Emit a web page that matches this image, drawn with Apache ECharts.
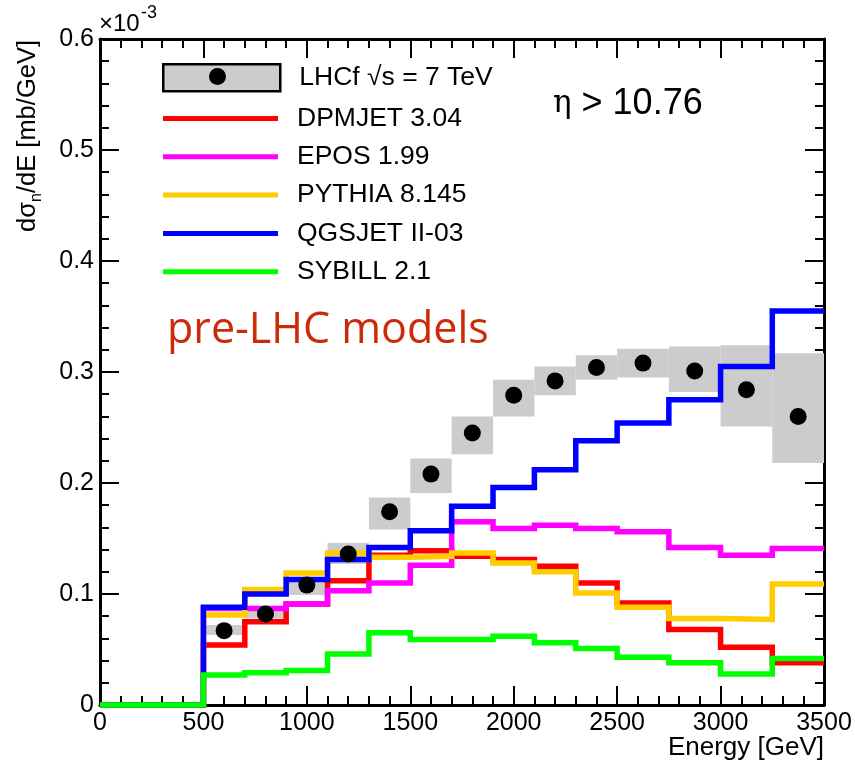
<!DOCTYPE html>
<html>
<head>
<meta charset="utf-8">
<script src="https://cdn.jsdelivr.net/npm/echarts@6/dist/echarts.min.js"></script>
<style>
  html, body { margin: 0; padding: 0; background: #fff; }
  #chart { width: 855px; height: 767px; }
</style>
</head>
<body>
<div id="chart"></div>
<script>
// Neutron energy spectrum, eta > 10.76, values in units of 1e-3 mb/GeV
const binEdges = [500, 700, 900, 1100, 1300, 1500, 1700, 1900, 2100, 2300, 2500, 2750, 3000, 3250, 3500];

// LHCf measurement: central value and systematic band per bin
const lhcfValue = [0.067, 0.082, 0.108, 0.136, 0.174, 0.208, 0.245, 0.279, 0.292, 0.304, 0.308, 0.301, 0.284, 0.260];
const lhcfLow   = [0.063, 0.078, 0.099, 0.127, 0.158, 0.191, 0.226, 0.260, 0.279, 0.293, 0.295, 0.282, 0.251, 0.218];
const lhcfHigh  = [0.072, 0.086, 0.115, 0.146, 0.187, 0.222, 0.260, 0.293, 0.305, 0.315, 0.321, 0.323, 0.324, 0.317];

// Model predictions per bin
const dpmjet = [0.054, 0.075, 0.091, 0.112, 0.135, 0.139, 0.134, 0.131, 0.125, 0.110, 0.092, 0.068, 0.052, 0.038];
const epos   = [0.087, 0.087, 0.091, 0.103, 0.110, 0.126, 0.165, 0.159, 0.162, 0.159, 0.156, 0.142, 0.135, 0.141];
const pythia = [0.081, 0.104, 0.119, 0.137, 0.133, 0.134, 0.137, 0.128, 0.120, 0.101, 0.088, 0.078, 0.077, 0.109];
const qgsjet = [0.088, 0.100, 0.113, 0.131, 0.142, 0.157, 0.179, 0.196, 0.212, 0.238, 0.254, 0.275, 0.305, 0.355];
const sybill = [0.027, 0.029, 0.031, 0.046, 0.065, 0.059, 0.059, 0.062, 0.056, 0.051, 0.043, 0.038, 0.028, 0.042];

const modelNames  = ['DPMJET 3.04', 'EPOS 1.99', 'PYTHIA 8.145', 'QGSJET II-03', 'SYBILL 2.1'];
const modelValues = [dpmjet, epos, pythia, qgsjet, sybill];
const modelColors = ['#ff0000', '#ff00ff', '#ffcc00', '#0000ff', '#00ff00'];

const xTicks = [0, 500, 1000, 1500, 2000, 2500, 3000, 3500];
const yTicks = [0, 0.1, 0.2, 0.3, 0.4, 0.5, 0.6];

const dataName = 'LHCf \u221As = 7 TeV';
const dotName = 'LHCf points';

// Histogram outline: zero below the first edge, then flat steps across each bin
function stepPoints(values) {
  const pts = [[xTicks[0], 0], [binEdges[0], 0]];
  for (let i = 0; i < values.length; i++) {
    pts.push([binEdges[i], values[i]]);
    pts.push([binEdges[i + 1], values[i]]);
  }
  return pts;
}

const boxData = lhcfValue.map((v, i) => [binEdges[i], binEdges[i + 1], lhcfLow[i], lhcfHigh[i]]);
const dotData = lhcfValue.map((v, i) => [(binEdges[i] + binEdges[i + 1]) / 2, v]);

const FONT = 'Liberation Sans, Arial, Helvetica, sans-serif';

const axisCommon = {
  type: 'value',
  axisLine: { show: true, onZero: false, lineStyle: { color: '#000', width: 3 } },
  axisTick: { show: true, inside: true, length: 19, lineStyle: { color: '#000', width: 2 } },
  minorTick: { show: true, splitNumber: 5, length: 9, lineStyle: { color: '#000', width: 2 } },
  splitLine: { show: false },
  minorSplitLine: { show: false }
};

const chart = echarts.init(document.getElementById('chart'), null, { renderer: 'canvas' });

const series = [
  {
    name: dataName,
    type: 'custom',
    xAxisIndex: 0, yAxisIndex: 0,
    z: 1,
    itemStyle: { color: '#cccccc' },
    renderItem: function (params, api) {
      const p0 = api.coord([api.value(0), api.value(3)]);
      const p1 = api.coord([api.value(1), api.value(2)]);
      return {
        type: 'rect',
        shape: { x: p0[0], y: p0[1], width: p1[0] - p0[0], height: p1[1] - p0[1] },
        style: { fill: '#cccccc' }
      };
    },
    data: boxData
  }
];

modelNames.forEach((name, k) => {
  series.push({
    name: name,
    type: 'line',
    xAxisIndex: 0, yAxisIndex: 0,
    z: 3 + k,
    clip: false,
    symbol: 'none',
    showSymbol: false,
    color: modelColors[k],
    lineStyle: { color: modelColors[k], width: 5.5, join: 'miter', cap: 'butt' },
    data: stepPoints(modelValues[k])
  });
});

series.push({
  name: dotName,
  type: 'scatter',
  xAxisIndex: 0, yAxisIndex: 0,
  z: 20,
  symbol: 'circle',
  symbolSize: 17,
  itemStyle: { color: '#000000', opacity: 1 },
  data: dotData
});

const option = {
  animation: false,
  backgroundColor: '#ffffff',
  grid: { left: 100, right: 31, top: 39, bottom: 62, containLabel: false },
  xAxis: [
    Object.assign({}, axisCommon, {
      position: 'bottom', min: 0, max: 3500, interval: 500,
      axisLabel: { show: true, color: '#000', fontFamily: FONT, fontSize: 25, margin: 6,
        formatter: v => String(v) }
    }),
    Object.assign({}, axisCommon, {
      position: 'top', min: 0, max: 3500, interval: 500,
      axisLabel: { show: false }
    })
  ],
  yAxis: [
    Object.assign({}, axisCommon, {
      position: 'left', min: 0, max: 0.6, interval: 0.1,
      axisLabel: { show: true, color: '#000', fontFamily: FONT, fontSize: 25, margin: 6,
        formatter: v => (v === 0 ? '0' : v.toFixed(1)) }
    }),
    Object.assign({}, axisCommon, {
      position: 'right', min: 0, max: 0.6, interval: 0.1,
      axisLabel: { show: false }
    })
  ],
  // common exponent of the vertical axis values
  title: [
    {
      text: '\u00D710', left: 99, top: 12,
      padding: 0,
      textStyle: { fontFamily: FONT, fontSize: 24, fontWeight: 'normal', color: '#000', lineHeight: 24 }
    },
    {
      text: '-3', left: 141, top: 4,
      padding: 0,
      textStyle: { fontFamily: FONT, fontSize: 18, fontWeight: 'normal', color: '#000', lineHeight: 18 }
    }
  ],
  legend: [
    {
      // shaded band entry
      orient: 'vertical', left: 157, top: 58,
      itemWidth: 117, itemHeight: 27, itemGap: 10,
      selectedMode: false,
      textStyle: { color: '#000', fontFamily: FONT, fontSize: 26.5, padding: [0, 0, 0, 14] },
      data: [{ name: dataName, icon: 'rect',
        itemStyle: { color: '#cccccc', borderColor: '#000', borderWidth: 2.5 } }]
    },
    {
      // marker drawn in the middle of the band entry
      orient: 'vertical', left: 204, top: 63,
      itemWidth: 17, itemHeight: 17,
      selectedMode: false,
      formatter: () => '',
      textStyle: { fontSize: 1 },
      data: [{ name: dotName, icon: 'circle', itemStyle: { color: '#000000', opacity: 1 } }]
    },
    {
      orient: 'vertical', left: 158, top: 100,
      itemWidth: 115, itemHeight: 5, itemGap: 11.3,
      selectedMode: false,
      icon: 'rect',
      textStyle: { color: '#000', fontFamily: FONT, fontSize: 26.5, padding: [0, 0, 0, 14] },
      data: modelNames.map((n, k) => ({ name: n, icon: 'rect',
        itemStyle: { color: modelColors[k], borderWidth: 0 } }))
    }
  ],
  graphic: [
    {
      type: 'text', x: 30, y: 40, rotation: Math.PI / 2,
      style: {
        text: '{a|d\u03C3}{s|n}{a|/dE [mb/GeV]}',
        align: 'right', verticalAlign: 'middle',
        rich: {
          a: { fontFamily: FONT, fontSize: 25.5, fill: '#000', lineHeight: 30, verticalAlign: 'top' },
          s: { fontFamily: FONT, fontSize: 16, fill: '#000', lineHeight: 30, verticalAlign: 'bottom' }
        }
      }
    },
    {
      type: 'text', x: 824, y: 748,
      style: { text: 'Energy [GeV]', fontFamily: FONT, fontSize: 26, fill: '#000',
        align: 'right', verticalAlign: 'middle' }
    },
    {
      type: 'text', x: 553, y: 104,
      style: {
        text: '{e|\u03B7}{g| > 10.76}',
        align: 'left', verticalAlign: 'middle',
        rich: {
          e: { fontFamily: 'DejaVu Serif, Liberation Serif, serif', fontSize: 31, fill: '#000' },
          g: { fontFamily: FONT, fontSize: 36, fill: '#000' }
        }
      }
    },
    {
      type: 'text', x: 167, y: 331,
      style: { text: 'pre-LHC models', fontFamily: 'Open Sans, sans-serif', fontSize: 43,
        fill: '#cc2a08', align: 'left', verticalAlign: 'middle' }
    }
  ],
  series: series
};

chart.setOption(option);
</script>
</body>
</html>
